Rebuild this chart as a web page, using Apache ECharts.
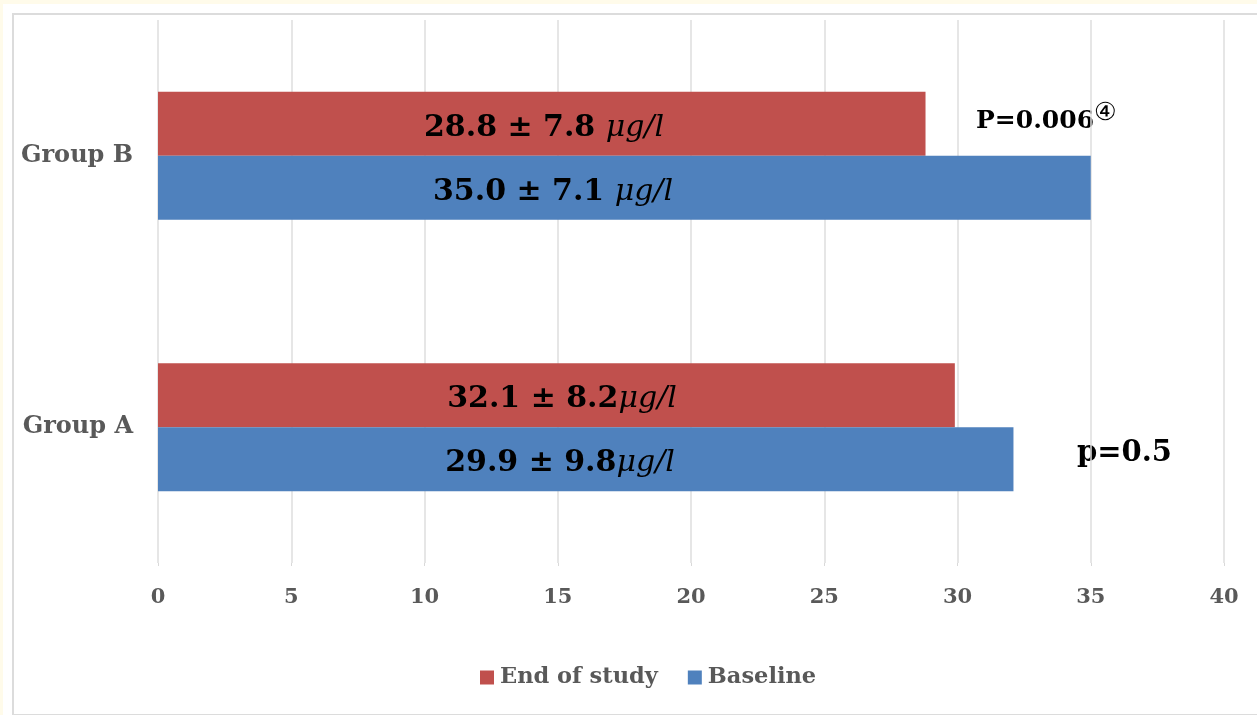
<!DOCTYPE html>
<html>
<head>
<meta charset="utf-8">
<script src="https://cdn.jsdelivr.net/npm/echarts@6/dist/echarts.min.js"></script>
<style>
html,body{margin:0;padding:0;width:1257px;height:715px;overflow:hidden;background:#fffbea;}
#white{position:absolute;left:3px;top:4px;width:1254px;height:711px;background:#fff;}
#frame{position:absolute;left:12px;top:13px;width:1260px;height:699px;border:2px solid #dcdcdc;}
#chart{position:absolute;left:0;top:0;width:1257px;height:715px;}
</style>
</head>
<body>
<div id="white"></div>
<div id="frame"></div>
<div id="chart"></div>
<script>
// ---- data ----
var categories = ['Group A', 'Group B'];
var seriesNames = ['End of study', 'Baseline'];
var endOfStudy = [29.9, 28.8];
var baseline = [32.1, 35.0];
var endLabels = ['32.1 ± 8.2', '28.8 ± 7.8 '];
var baseLabels = ['29.9 ± 9.8', '35.0 ± 7.1 '];
var unitText = 'μg/l';
var pValueB = 'P=0.006';
var pValueMark = '④';
var pValueA = 'p=0.5';
var xTicks = {min: 0, max: 40, interval: 5};

var serif = '"DejaVu Serif", "Liberation Serif", serif';
var richStyles = {
  b: {fontFamily: serif, fontWeight: 'bold', fontSize: 30, color: '#000'},
  i: {fontFamily: serif, fontStyle: 'italic', fontSize: 30, color: '#000'}
};
function withLabels(values, texts, centers) {
  return values.map(function (v, k) {
    return {
      value: v,
      label: {
        show: true,
        position: [centers[k], '50%'],
        offset: [0, 4],
        align: 'center',
        verticalAlign: 'middle',
        formatter: '{b|' + texts[k] + '}{i|' + unitText + '}',
        rich: richStyles
      }
    };
  });
}

var chart = echarts.init(document.getElementById('chart'), null, {renderer: 'canvas'});
chart.setOption({
  animation: false,
  backgroundColor: 'transparent',
  grid: {left: 158, right: 33, top: 20, bottom: 152, containLabel: false},
  legend: {
    data: seriesNames,
    left: 475, top: 661,
    itemWidth: 14, itemHeight: 14, itemGap: 30,
    icon: 'rect',
    textStyle: {fontFamily: serif, fontWeight: 'bold', fontSize: 22.5, color: '#595959', padding: [0, 0, 0, 1]}
  },
  xAxis: {
    type: 'value', min: xTicks.min, max: xTicks.max, interval: xTicks.interval,
    axisLine: {show: false},
    axisTick: {show: true, length: 3, lineStyle: {color: '#d9d9d9'}},
    splitLine: {show: true, lineStyle: {color: '#dedede', width: 1.5}},
    axisLabel: {margin: 24, fontFamily: serif, fontWeight: 'bold', fontSize: 21, color: '#595959'}
  },
  yAxis: {
    type: 'category', data: categories,
    axisLine: {show: false}, axisTick: {show: false},
    axisLabel: {margin: 25, fontFamily: serif, fontWeight: 'bold', fontSize: 24, color: '#595959', padding: [4, 0, 0, 0]}
  },
  series: [
    {name: seriesNames[0], type: 'bar', data: withLabels(endOfStudy, endLabels, [404, 386]),
     barWidth: 64, barGap: '0%', itemStyle: {color: '#c0504d'}},
    {name: seriesNames[1], type: 'bar', data: withLabels(baseline, baseLabels, [402, 395]),
     barWidth: 64, barGap: '0%', itemStyle: {color: '#4f81bd'}}
  ],
  graphic: [
    {type: 'text', left: 976, top: 109, style: {text: pValueB, font: 'bold 25px ' + serif, fill: '#000'}},
    {type: 'text', left: 1094, top: 101, style: {text: pValueMark, font: '25px "DejaVu Sans", sans-serif', fill: '#000'}},
    {type: 'text', left: 1077, top: 439, style: {text: pValueA, font: 'bold 29px ' + serif, fill: '#000'}}
  ]
});
</script>
</body>
</html>
